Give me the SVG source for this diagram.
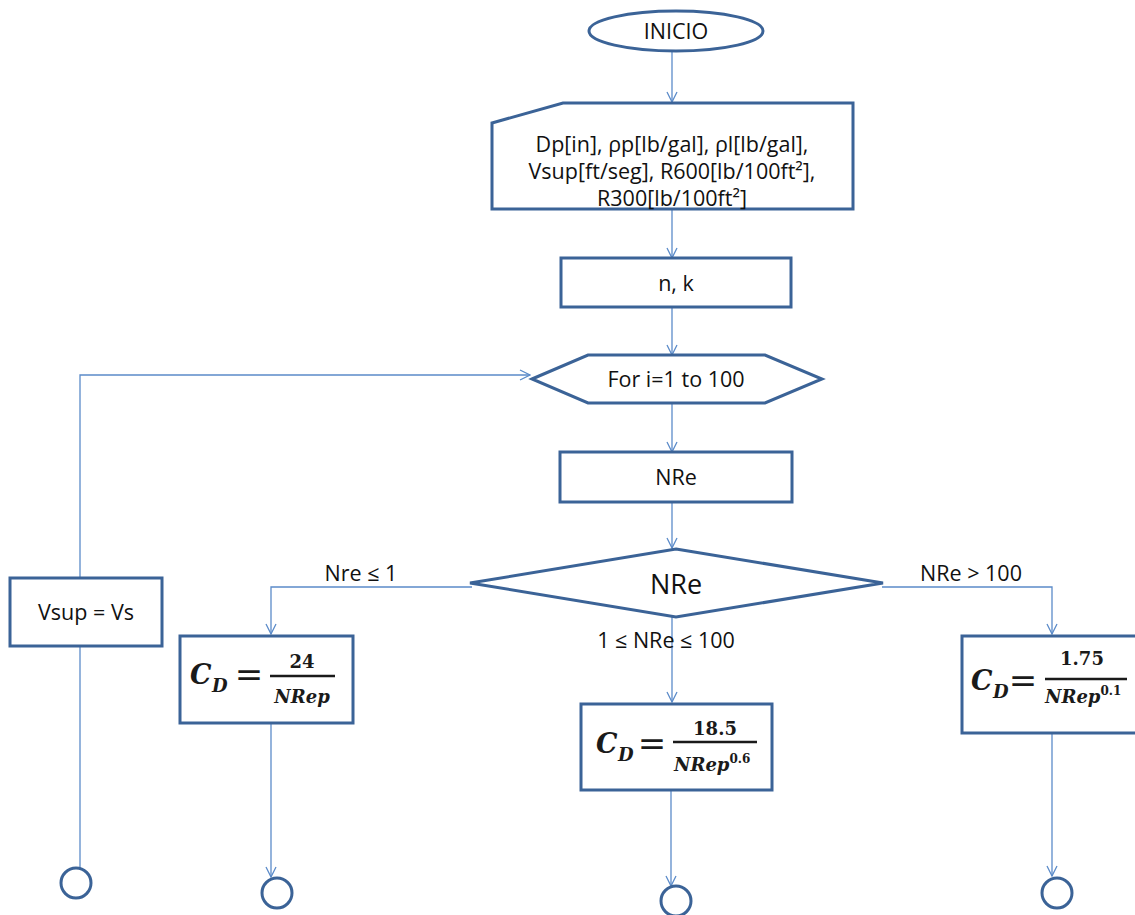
<svg xmlns="http://www.w3.org/2000/svg" width="1135" height="915" viewBox="0 0 1135 915">
  <style>
    .shape { fill: #ffffff; stroke: #3B6397; stroke-width: 3; stroke-linejoin: miter; }
    .term { fill: #ffffff; stroke: #3B6397; stroke-width: 3; }
    .wire { fill: none; stroke: #5B8BC9; stroke-width: 1.3; }
    .label { font-family: "Open Sans", "Liberation Sans", sans-serif; font-size: 21.5px; fill: #111; text-anchor: middle; }
    .big { font-size: 27px; }
    .math { font-family: "DejaVu Serif", "Liberation Serif", serif; font-style: italic; font-weight: bold; fill: #1a1a1a; }
    .num { font-family: "DejaVu Serif", "Liberation Serif", serif; font-weight: bold; fill: #1a1a1a; text-anchor: middle; }
    .eq { font-family: "DejaVu Sans", sans-serif; fill: #1a1a1a; text-anchor: middle; }
    .bar { stroke: #1a1a1a; stroke-width: 2.4; }
  </style>
  <defs>
    <marker id="arrow" viewBox="0 0 12 12" refX="11" refY="6" markerWidth="12" markerHeight="12" markerUnits="userSpaceOnUse" orient="auto">
      <path d="M1,1 L11,6 L1,11" fill="none" stroke="#5B8BC9" stroke-width="1.3"/>
    </marker>
  </defs>

  <!-- connectors -->
  <g id="connectors">
    <path class="wire" d="M672,51 V102" marker-end="url(#arrow)"/>
    <path class="wire" d="M672,209 V258" marker-end="url(#arrow)"/>
    <path class="wire" d="M672,307 V355" marker-end="url(#arrow)"/>
    <path class="wire" d="M672,403 V452" marker-end="url(#arrow)"/>
    <path class="wire" d="M672,502 V548" marker-end="url(#arrow)"/>
    <path class="wire" d="M80,577 V375 H530" marker-end="url(#arrow)"/>
    <path class="wire" d="M472,587 H271 V634" marker-end="url(#arrow)"/>
    <path class="wire" d="M882,587 H1052 V634" marker-end="url(#arrow)"/>
    <path class="wire" d="M672,617 V702" marker-end="url(#arrow)"/>
    <path class="wire" d="M80,646 V868"/>
    <path class="wire" d="M271,723 V877" marker-end="url(#arrow)"/>
    <path class="wire" d="M671,790 V886" marker-end="url(#arrow)"/>
    <path class="wire" d="M1052,733 V876" marker-end="url(#arrow)"/>
    <text class="label" x="361" y="581">Nre ≤ 1</text>
    <text class="label" x="971" y="581">NRe &gt; 100</text>
    <text class="label" x="666" y="648">1 ≤ NRe ≤ 100</text>
  </g>

  <!-- start -->
  <g id="inicio">
    <ellipse class="term" cx="676" cy="31" rx="87" ry="20"/>
    <text class="label" x="676" y="39">INICIO</text>
  </g>

  <!-- manual input of data -->
  <g id="entrada">
    <path class="shape" d="M492,123 L563,103 H853 V209 H492 Z"/>
    <text class="label" x="672" y="152">Dp[in], ρp[lb/gal], ρl[lb/gal],</text>
    <text class="label" x="672" y="179">Vsup[ft/seg], R600[lb/100ft²],</text>
    <text class="label" x="672" y="206">R300[lb/100ft²]</text>
  </g>

  <g id="nk">
    <rect class="shape" x="561" y="258" width="230" height="49"/>
    <text class="label" x="676" y="291">n, k</text>
  </g>

  <g id="ciclo">
    <path class="shape" d="M532,379 L588,355 H765 L822,379 L765,403 H588 Z"/>
    <text class="label" x="676" y="387">For i=1 to 100</text>
  </g>

  <g id="nre">
    <rect class="shape" x="560" y="452" width="232" height="50"/>
    <text class="label" x="676" y="485">NRe</text>
  </g>

  <g id="decision">
    <path class="shape" d="M676,549 L883,583 L676,617 L470,583 Z"/>
    <text class="label big" x="676" y="594">NRe</text>
  </g>

  <g id="vsup">
    <rect class="shape" x="10" y="578" width="152" height="68"/>
    <text class="label" x="86" y="620">Vsup = Vs</text>
  </g>

  <!-- drag coefficient, laminar -->
  <g id="cd-laminar">
    <rect class="shape" x="180" y="636" width="173" height="87"/>
    <text class="math" x="190" y="684" font-size="27">C</text>
    <text class="math" x="212" y="692" font-size="18">D</text>
    <text class="eq" x="249" y="686" font-size="34">=</text>
    <line class="bar" x1="270" y1="676" x2="335" y2="676"/>
    <text class="num" x="302" y="668" font-size="18">24</text>
    <text class="math" x="302" y="703" font-size="18" text-anchor="middle">NRep</text>
  </g>

  <!-- drag coefficient, intermediate -->
  <g id="cd-intermedio">
    <rect class="shape" x="581" y="704" width="191" height="86"/>
    <text class="math" x="596" y="753" font-size="27">C</text>
    <text class="math" x="618" y="761" font-size="18">D</text>
    <text class="eq" x="652" y="755" font-size="34">=</text>
    <line class="bar" x1="673" y1="742" x2="757" y2="742"/>
    <text class="num" x="715" y="735" font-size="18">18.5</text>
    <text class="math" x="674" y="771" font-size="18">NRep<tspan font-size="12" font-style="normal" dy="-8">0.6</tspan></text>
  </g>

  <!-- drag coefficient, turbulent -->
  <g id="cd-turbulento">
    <rect class="shape" x="962" y="636" width="180" height="97"/>
    <text class="math" x="971" y="690" font-size="27">C</text>
    <text class="math" x="993" y="698" font-size="18">D</text>
    <text class="eq" x="1023" y="692" font-size="34">=</text>
    <line class="bar" x1="1045" y1="679" x2="1127" y2="679"/>
    <text class="num" x="1082" y="665" font-size="18">1.75</text>
    <text class="math" x="1045" y="703" font-size="18">NRep<tspan font-size="12" font-style="normal" dy="-8">0.1</tspan></text>
  </g>

  <!-- off-page connectors -->
  <g id="fin1"><circle class="term" cx="76" cy="883" r="15"/></g>
  <g id="fin2"><circle class="term" cx="277" cy="893" r="15"/></g>
  <g id="fin3"><circle class="term" cx="676" cy="901" r="15"/></g>
  <g id="fin4"><circle class="term" cx="1057" cy="893" r="15"/></g>
</svg>
